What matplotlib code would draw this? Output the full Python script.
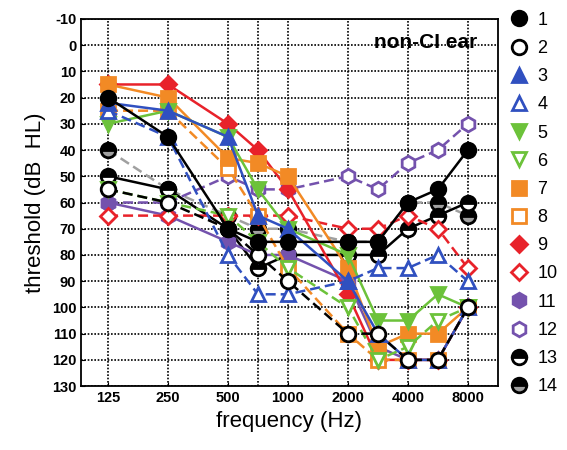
"""
Audiogram of the non-CI ear, 14 subjects.
Writes out.png (567x450).
"""

import numpy as np
import matplotlib

matplotlib.use("Agg")
import matplotlib.pyplot as plt
from matplotlib.lines import Line2D

plt.rcParams["font.family"] = ["Liberation Sans", "DejaVu Sans"]
plt.rcParams["axes.unicode_minus"] = False

# ── data (dB HL) ──────────────────────────────────────────────────────

FREQS = [125, 250, 500, 750, 1000, 2000, 3000, 4000, 6000, 8000]
OCTAVE_TICKS = [125, 250, 500, 1000, 2000, 4000, 8000]
EXTRA_GRID = [750]

S1 = [20, 35, 70, 75, 75, 75, 75, 60, 55, 40]
S2 = [55, 60, 70, 80, 90, 110, 110, 120, 120, 100]
S3 = [22, 25, 35, 65, 70, 90, 110, 120, 120, 100]
S4 = [25, 35, 80, 95, 95, 90, 85, 85, 80, 90]
S5 = [30, 25, 35, 55, 70, 80, 105, 105, 95, 100]
S6 = [55, 60, 65, 75, 85, 100, 120, 115, 105, 100]
S7 = [15, 20, 43, 45, 50, 85, 115, 110, 110, 100]
S8 = [25, 25, 47, 65, 85, 110, 120, 120, 120, 100]
S9 = [15, 15, 30, 40, 55, 95, 120, 120, 120, 100]
S10 = [65, 65, 65, 65, 65, 70, 70, 65, 70, 85]
S11 = [60, 65, 75, 80, 80, 90, 115, 120, 120, 100]
S12 = [60, 60, 50, 55, 55, 50, 55, 45, 40, 30]
S13 = [50, 55, 70, 85, 80, 80, 80, 70, 65, 60]
S14 = [40, 55, 65, 70, 70, 75, 75, 60, 60, 65]

LABELS = [str(i) for i in range(1, 15)]

BLACK = "#000000"
BLUE = "#3050C0"
GREEN = "#6CC23A"
ORANGE = "#F28A25"
RED = "#E8222A"
PURPLE = "#7452AD"
GRAY = "#A0A0A0"

# (values, colour, marker, filled, linestyle, alt fill for half markers)
SERIES = [
    (S1, BLACK, "o", True, "-", None),
    (S2, BLACK, "o", False, "--", None),
    (S3, BLUE, "^", True, "-", None),
    (S4, BLUE, "^", False, "--", None),
    (S5, GREEN, "v", True, "-", None),
    (S6, GREEN, "v", False, "--", None),
    (S7, ORANGE, "s", True, "-", None),
    (S8, ORANGE, "s", False, "--", None),
    (S9, RED, "D", True, "-", None),
    (S10, RED, "D", False, "--", None),
    (S11, PURPLE, "h", True, "-", None),
    (S12, PURPLE, "h", False, "--", None),
    (S13, BLACK, "o", True, "-", "white"),
    (S14, BLACK, "o", True, "--", GRAY),
]

# x axis: octaves evenly spaced, inter-octave freqs placed halfway
_KNOT_F = np.log2([62.5] + FREQS + [16000])
_KNOT_X = np.array([-1, 0, 1, 2, 2.5, 3, 4, 4.5, 5, 5.5, 6, 7])


def fwd(f):
    return np.interp(np.log2(np.clip(f, 1e-3, None)), _KNOT_F, _KNOT_X)


def inv(x):
    return 2 ** np.interp(x, _KNOT_X, _KNOT_F)


def style(color, marker, filled, alt):
    kw = dict(marker=marker, markersize=10.5 if marker != "D" else 8.5,
              markeredgewidth=2, markeredgecolor=color, color=color)
    if alt is not None:
        kw.update(fillstyle="top", markerfacecolor=BLACK, markerfacecoloralt=alt)
    else:
        kw.update(markerfacecolor=color if filled else "white")
    return kw


def main():
    fig = plt.figure(figsize=(5.67, 4.5), dpi=100)
    ax = fig.add_axes([0.143, 0.142, 0.735, 0.816])
    ax.set_xscale("function", functions=(fwd, inv))

    # draw in reverse so subject 1 ends up on top
    for vals, color, marker, filled, ls, alt in reversed(SERIES):
        line_color = GRAY if alt == GRAY else color
        kw = style(color, marker, filled, alt)
        kw["color"] = line_color
        ax.plot(FREQS, vals, linestyle=ls, linewidth=1.8,
                dashes=(4, 2) if ls == "--" else (None, None), **kw)

    ax.set_xlim(inv(-0.45), inv(6.5))
    ax.set_ylim(130, -10)
    ax.set_yticks(np.arange(-10, 131, 10))
    ax.set_xticks(OCTAVE_TICKS)
    ax.set_xticklabels([str(f) for f in OCTAVE_TICKS])
    ax.set_xticks(EXTRA_GRID, minor=True)
    ax.set_xticklabels([], minor=True)
    ax.tick_params(axis="x", which="minor", length=0)
    ax.tick_params(labelsize=10.5, length=3, direction="in")
    for lab in ax.get_xticklabels() + ax.get_yticklabels():
        lab.set_fontweight("bold")

    grid_kw = dict(color="black", linestyle=(0, (1, 1)), linewidth=1.2)
    ax.grid(True, which="major", axis="y", **grid_kw)
    ax.grid(True, which="both", axis="x", **grid_kw)
    ax.set_axisbelow(True)
    for sp in ax.spines.values():
        sp.set_linewidth(1.3)

    ax.set_xlabel("frequency (Hz)", fontsize=16)
    ax.set_ylabel("threshold (dB  HL)", fontsize=16)
    ax.text(0.95, 0.935, "non-CI ear", transform=ax.transAxes, ha="right", va="center",
            fontsize=15, fontweight="bold")

    handles = []
    for vals, color, marker, filled, ls, alt in SERIES:
        handles.append(Line2D([], [], linestyle="none", **style(color, marker, filled, alt)))
    fig.legend(handles, LABELS, loc="upper left", bbox_to_anchor=(0.887, 0.99),
               frameon=False, fontsize=13, handlelength=1.0, handletextpad=0.5,
               labelspacing=0.62, borderaxespad=0)

    fig.savefig("out.png", dpi=100)
    plt.close(fig)


if __name__ == "__main__":
    main()
